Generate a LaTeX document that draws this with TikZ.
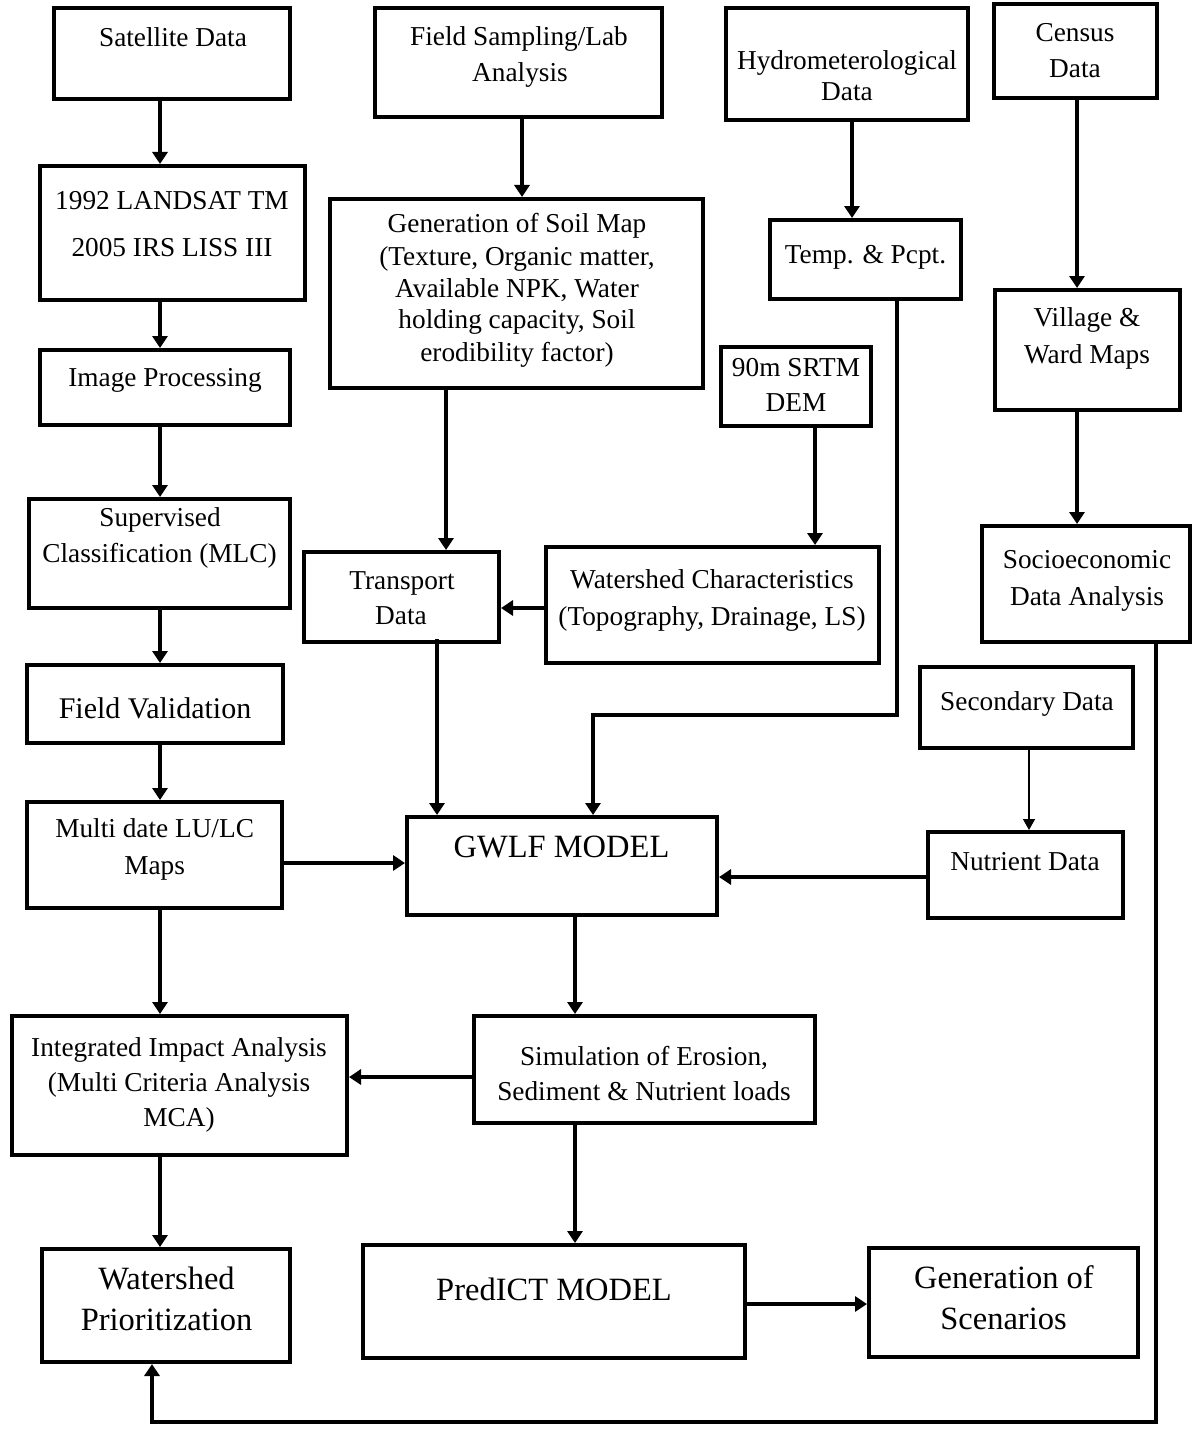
\documentclass[tikz,border=0pt]{standalone}
\usepackage{fontspec}
\setmainfont{Liberation Serif}
\usetikzlibrary{arrows.meta,fit}
\begin{document}
\begin{tikzpicture}[x=1pt,y=-1pt,
  box/.style={draw, line width=4pt, inner sep=0pt},
  txt/.style={anchor=base, inner sep=0pt, font=\fontsize{27.3}{30}\selectfont},
  big/.style={anchor=base, inner sep=0pt, font=\fontsize{32.5}{36}\selectfont},
  mid/.style={anchor=base, inner sep=0pt, font=\fontsize{30}{33}\selectfont},
  conn/.style={line width=3.5pt},
  arr/.style={line width=3.5pt, -{Triangle[length=12pt,width=15pt]}},
  thinarr/.style={line width=1.5pt, -{Triangle[length=11pt,width=12pt]}}]
\useasboundingbox (0,0) rectangle (1194,1450);
% ---- boxes ----
\node[box, fit={(54,8) (290,99)}] (sat) {};
\node[box, fit={(40,166) (305,300)}] (land) {};
\node[box, fit={(40,350) (290,425)}] (img) {};
\node[box, fit={(29,499) (290,608)}] (sup) {};
\node[box, fit={(27,665) (283,743)}] (fval) {};
\node[box, fit={(27,802) (282,908)}] (multi) {};
\node[box, fit={(12,1016) (347,1155)}] (integ) {};
\node[box, fit={(42,1249) (290,1362)}] (wp) {};
\node[box, fit={(375,8) (662,117)}] (field) {};
\node[box, fit={(330,199) (703,388)}] (soil) {};
\node[box, fit={(726,8) (968,120)}] (hydro) {};
\node[box, fit={(770,220) (961,299)}] (temp) {};
\node[box, fit={(994,4) (1157,98)}] (census) {};
\node[box, fit={(995,290) (1180,410)}] (village) {};
\node[box, fit={(721,347) (871,426)}] (srtm) {};
\node[box, fit={(304,552) (499,642)}] (trans) {};
\node[box, fit={(546,547) (879,663)}] (wchar) {};
\node[box, fit={(982,526) (1190,642)}] (socio) {};
\node[box, fit={(920,667) (1133,748)}] (second) {};
\node[box, fit={(928,832) (1123,918)}] (nutr) {};
\node[box, fit={(407,817) (717,915)}] (gwlf) {};
\node[box, fit={(474,1016) (815,1123)}] (sim) {};
\node[box, fit={(363,1245) (745,1358)}] (pred) {};
\node[box, fit={(869,1248) (1138,1357)}] (gen) {};
% ---- texts ----
\node[txt] (sat-t) at (173,46.7) {Satellite Data};
\node[txt] (land-t1) at (172,209) {1992 LANDSAT TM};
\node[txt] (land-t2) at (172,256) {2005 IRS LISS III};
\node[txt] (img-t) at (165,386.7) {Image Processing};
\node[txt] (sup-t1) at (160,526) {Supervised};
\node[txt] (sup-t2) at (159.5,562.7) {Classification (MLC)};
\node[mid] (fval-t) at (155,718.3) {Field Validation};
\node[txt] (multi-t1) at (154.6,837.7) {Multi date LU/LC};
\node[txt] (multi-t2) at (154.6,874) {Maps};
\node[txt] (integ-t1) at (179,1056.7) {Integrated Impact Analysis};
\node[txt] (integ-t2) at (179,1091.7) {(Multi Criteria Analysis};
\node[txt] (integ-t3) at (179,1126.7) {MCA)};
\node[big] (wp-t1) at (166.5,1289.3) {Watershed};
\node[big] (wp-t2) at (166.5,1330) {Prioritization};
\node[txt] (field-t1) at (519,45.7) {Field Sampling/Lab};
\node[txt] (field-t2) at (520,81.7) {Analysis};
\node[txt] (soil-t1) at (517,233) {Generation of Soil Map};
\node[txt] (soil-t2) at (517,265.7) {(Texture, Organic matter,};
\node[txt] (soil-t3) at (517,297.7) {Available NPK, Water};
\node[txt] (soil-t4) at (517,328.5) {holding capacity, Soil};
\node[txt] (soil-t5) at (517,361.7) {erodibility factor)};
\node[txt] (hydro-t1) at (847,70) {Hydrometerological};
\node[txt] (hydro-t2) at (847,101) {Data};
\node[txt] (temp-t) at (865.5,263.3) {Temp. \& Pcpt.};
\node[txt] (census-t1) at (1075,41.7) {Census};
\node[txt] (census-t2) at (1075,77.3) {Data};
\node[txt] (village-t1) at (1087,326.7) {Village \&};
\node[txt] (village-t2) at (1087,363.3) {Ward Maps};
\node[txt] (srtm-t1) at (796,376) {90m SRTM};
\node[txt] (srtm-t2) at (796,411.7) {DEM};
\node[txt] (trans-t1) at (402,589.3) {Transport};
\node[txt] (trans-t2) at (401,624) {Data};
\node[txt] (wchar-t1) at (712,588.3) {Watershed Characteristics};
\node[txt] (wchar-t2) at (712,625) {(Topography, Drainage, LS)};
\node[txt] (socio-t1) at (1087,568.3) {Socioeconomic};
\node[txt] (socio-t2) at (1087,605) {Data Analysis};
\node[txt] (second-t) at (1027,710) {Secondary Data};
\node[txt] (nutr-t) at (1025,870) {Nutrient Data};
\node[big] (gwlf-t) at (561.5,857.3) {GWLF MODEL};
\node[txt] (sim-t1) at (644,1065.7) {Simulation of Erosion,};
\node[txt] (sim-t2) at (644,1100.7) {Sediment \& Nutrient loads};
\node[big] (pred-t) at (554,1300) {PredICT MODEL};
\node[big] (gen-t1) at (1004,1288.3) {Generation of};
\node[big] (gen-t2) at (1003.5,1329.3) {Scenarios};
% ---- columns / rows ----
\coordinate (c160) at (160,0);
\coordinate (c152) at (152,0);
\coordinate (c437) at (437,0);
\coordinate (c446) at (446,0);
\coordinate (c522) at (522,0);
\coordinate (c575) at (575,0);
\coordinate (c593) at (593,0);
\coordinate (c815) at (815,0);
\coordinate (c852) at (852,0);
\coordinate (c897) at (897,0);
\coordinate (c1029) at (1029,0);
\coordinate (c1077) at (1077,0);
\coordinate (c1156) at (1156,0);
\coordinate (r608) at (0,608);
\coordinate (r863) at (0,863);
\coordinate (r877) at (0,877);
\coordinate (r1077) at (0,1077);
\coordinate (r1304) at (0,1304);
\coordinate (k1) at (593,715);
\coordinate (k2) at (152,1422);
% ---- connectors ----
\draw[arr] (sat.south -| c160) -- (land.north -| c160);
\draw[arr] (land.south -| c160) -- (img.north -| c160);
\draw[arr] (img.south -| c160) -- (sup.north -| c160);
\draw[arr] (sup.south -| c160) -- (fval.north -| c160);
\draw[arr] (fval.south -| c160) -- (multi.north -| c160);
\draw[arr] (multi.south -| c160) -- (integ.north -| c160);
\draw[arr] (integ.south -| c160) -- (wp.north -| c160);
\draw[arr] (field.south -| c522) -- (soil.north -| c522);
\draw[arr] (soil.south -| c446) -- (trans.north -| c446);
\draw[arr] (hydro.south -| c852) -- (temp.north -| c852);
\draw[arr] (census.south -| c1077) -- (village.north -| c1077);
\draw[arr] (village.south -| c1077) -- (socio.north -| c1077);
\draw[arr] (srtm.south -| c815) -- (wchar.north -| c815);
\draw[arr] (wchar.west |- r608) -- (trans.east |- r608);
\draw[arr] ([yshift=5pt]trans.south -| c437) -- (gwlf.north -| c437);
\draw[arr] (temp.south -| c897) |- (k1) -- (gwlf.north -| c593);
\draw[arr] (multi.east |- r863) -- (gwlf.west |- r863);
\draw[arr] (nutr.west |- r877) -- (gwlf.east |- r877);
\draw[thinarr] (second.south -| c1029) -- (nutr.north -| c1029);
\draw[arr] (gwlf.south -| c575) -- (sim.north -| c575);
\draw[arr] (sim.west |- r1077) -- (integ.east |- r1077);
\draw[arr] (sim.south -| c575) -- (pred.north -| c575);
\draw[arr] (pred.east |- r1304) -- (gen.west |- r1304);
\draw[arr] (socio.south -| c1156) |- (k2) -- (wp.south -| c152);
\end{tikzpicture}
\end{document}
